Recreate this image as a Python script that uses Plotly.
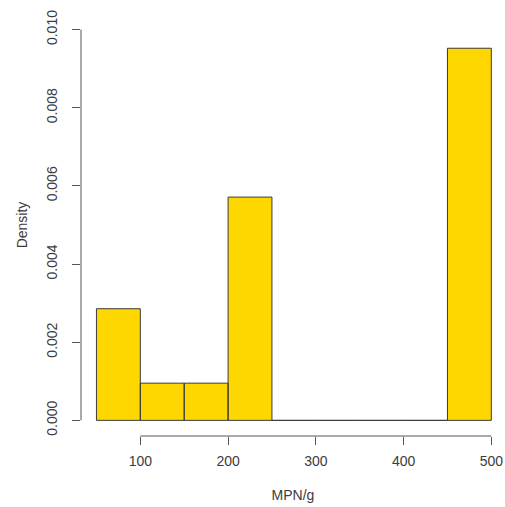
import plotly.graph_objects as go

# Histogram of MPN/g: bin edges and counts per bin
breaks = [50, 100, 150, 200, 250, 300, 350, 400, 450, 500]
counts = [3, 1, 1, 6, 0, 0, 0, 0, 10]
x_ticks = [100, 200, 300, 400, 500]
y_ticks = [0.000, 0.002, 0.004, 0.006, 0.008, 0.010]
y_tick_labels = ["0.000", "0.002", "0.004", "0.006", "0.008", "0.010"]

n = sum(counts)
density = [c / (n * (breaks[i + 1] - breaks[i])) for i, c in enumerate(counts)]

# one closed rectangle per bin, separated by gaps
xs, ys = [], []
for i, d in enumerate(density):
    l, r = breaks[i], breaks[i + 1]
    xs += [l, l, r, r, l, None]
    ys += [0, d, d, 0, 0, None]

fig = go.Figure()
fig.add_trace(go.Scatter(
    x=xs, y=ys, mode="lines", fill="toself",
    fillcolor="#FFD700", line=dict(color="#3a3a3a", width=1),
    hoverinfo="skip", showlegend=False,
))

axis_color = "#555555"
family = "Liberation Sans, Arial, sans-serif"
tick_font = dict(family=family, size=14, color="#3c3c3c")
title_font = dict(family=family, size=14, color="#3c3c3c")

fig.update_layout(
    width=505, height=507,
    margin=dict(l=81, r=0, t=14, b=71),
    paper_bgcolor="white", plot_bgcolor="white",
    font=dict(family=family, size=14, color="#3c3c3c"),
    xaxis=dict(
        range=[32.4, 515.6], showgrid=False, zeroline=False, showline=False,
        tickvals=x_ticks, ticktext=[str(v) for v in x_ticks], tickfont=tick_font,
        ticks="outside", ticklen=8, tickcolor=axis_color, tickwidth=1,
        ticklabelstandoff=4,
        title=dict(text="MPN/g", font=title_font, standoff=22),
    ),
    yaxis=dict(
        range=[-0.0004, 0.0104], showgrid=False, zeroline=False, showline=False,
        tickvals=y_ticks, ticktext=y_tick_labels, tickangle=-90, tickfont=tick_font,
        ticks="outside", ticklen=8, tickcolor=axis_color, tickwidth=1,
        ticklabelstandoff=9,
        title=dict(text="Density", font=title_font, standoff=13),
    ),
    shapes=[
        # R-style axis lines spanning only the tick range
        dict(type="line", xref="x", yref="paper", x0=x_ticks[0], x1=x_ticks[-1],
             y0=0, y1=0, line=dict(color=axis_color, width=1)),
        dict(type="line", xref="paper", yref="y", x0=0, x1=0,
             y0=y_ticks[0], y1=y_ticks[-1], line=dict(color=axis_color, width=1)),
    ],
)

fig.write_html("out.html")
